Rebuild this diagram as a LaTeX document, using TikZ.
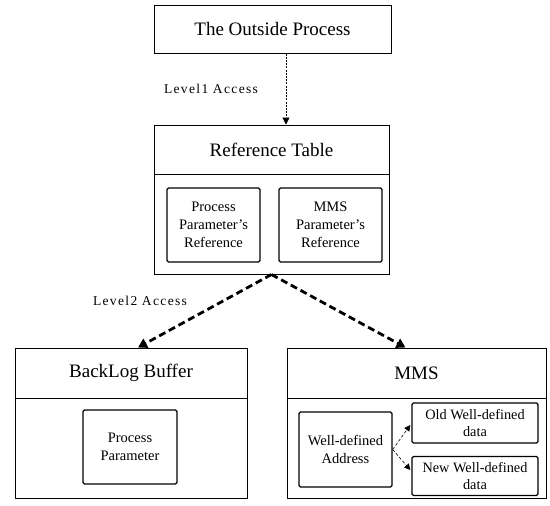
\documentclass[tikz,border=0pt]{standalone}
\usepackage{fontspec}
\setmainfont{Liberation Serif}
\newfontfamily\lblfont[LetterSpace=10]{Liberation Serif}
\usetikzlibrary{arrows.meta,calc}
\tikzset{
  box/.style={draw, line width=1pt, inner sep=0pt, align=center},
  titlebox/.style={box, font=\fontsize{19}{22}\selectfont},
  innerbox/.style={draw, line width=1.3pt, rounded corners=1.5pt, align=center, inner sep=0pt, font=\fontsize{14.5}{18}\selectfont},
  smallbox/.style={innerbox, font=\fontsize{14.3}{17}\selectfont},
  lvlone/.style={draw, line width=0.6pt, dash pattern=on 2pt off 1.2pt, -{Triangle[length=7pt,width=7pt]}},
  lvltwo/.style={draw, line width=2.8pt, dash pattern=on 7pt off 4pt, -{Triangle[length=9pt,width=10pt]}},
  thinarrow/.style={draw, line width=0.6pt, dash pattern=on 3pt off 2pt, -{Triangle[length=6pt,width=6pt]}},
  lbl/.style={font=\lblfont\fontsize{13.5}{16}\selectfont, inner sep=0pt}
}
\begin{document}
\begin{tikzpicture}[x=1pt,y=-1pt]
\useasboundingbox (0,0) rectangle (550,506);
% top
\node[titlebox, minimum width=237pt, minimum height=48pt] (outside) at (272.5,29) {The Outside Process};
% reference table
\node[titlebox, minimum width=235pt, minimum height=49pt] (reftitle) at (271.5,149.5) {Reference Table};
\node[box, minimum width=235pt, minimum height=100pt] (refbody) at (271.5,224) {};
\node[innerbox, minimum width=93pt, minimum height=74pt] (ppref) at (213.5,225) {Process\\Parameter's\\Reference};
\node[innerbox, minimum width=103pt, minimum height=74pt] (mmsref) at (330.5,225) {MMS\\Parameter's\\Reference};
% backlog
\node[titlebox, minimum width=232pt, minimum height=50pt] (blogtitle) at (131,373) {BackLog Buffer};
\node[box, minimum width=232pt, minimum height=100pt] (blogbody) at (131,448) {};
\node[innerbox, minimum width=94pt, minimum height=74pt] (pp) at (130,447) {Process\\Parameter};
% mms
\node[titlebox, minimum width=259pt, minimum height=50pt] (mmstitle) at (416.5,373) {MMS};
\node[box, minimum width=259pt, minimum height=100pt] (mmsbody) at (416.5,448) {};
\node[innerbox, minimum width=93pt, minimum height=75pt] (wda) at (345.5,449.5) {Well-defined\\Address};
\node[smallbox, minimum width=126pt, minimum height=40pt] (old) at (475,423) {Old Well-defined\\data};
\node[smallbox, minimum width=126pt, minimum height=39pt] (new) at (475,476) {New Well-defined\\data};
% connectors
\coordinate (aone) at (286,0);
\draw[lvlone] (outside.south -| aone) -- (reftitle.north -| aone);
\node[lbl] (lone) at (211,89) {Level1 Access};
\draw[lvltwo] (refbody.south) -- ($(blogtitle.north)+(7,0)$);
\draw[lvltwo] (refbody.south) -- ($(mmstitle.north)+(-11,0)$);
\node[lbl] (ltwo) at (140,301) {Level2 Access};
\draw[thinarrow] (wda.east) -- ($(old.west)+(-1,2)$);
\draw[thinarrow] (wda.east) -- ($(new.west)+(-1,-6)$);
\end{tikzpicture}
\end{document}
